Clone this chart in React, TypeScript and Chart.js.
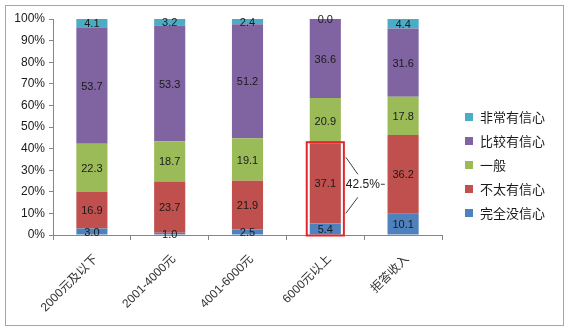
import React, { useEffect, useRef } from "react";
import { Chart, registerables } from "chart.js";

Chart.register(...registerables);

const categories = ["2000元及以下", "2001-4000元", "4001-6000元", "6000元以上", "拒答收入"];
const seriesNames = ["完全没信心", "不太有信心", "一般", "比较有信心", "非常有信心"];
const seriesColors = ["#4F81BD", "#C0504D", "#9BBB59", "#8064A2", "#4BACC6"];

const noConfidence = [3.0, 1.0, 2.5, 5.4, 10.1];
const littleConfidence = [16.9, 23.7, 21.9, 37.1, 36.2];
const neutral = [22.3, 18.7, 19.1, 20.9, 17.8];
const fairlyConfident = [53.7, 53.3, 51.2, 36.6, 31.6];
const veryConfident = [4.1, 3.2, 2.4, 0.0, 4.4];

const seriesValues = [noConfidence, littleConfidence, neutral, fairlyConfident, veryConfident];
const highlightCategory = 3; // 6000元以上
const highlightSeries = [0, 1]; // 完全没信心 + 不太有信心

const FONT = "'Liberation Sans', 'Noto Sans CJK SC', sans-serif";

export default function App() {
  const ref = useRef<HTMLCanvasElement>(null);

  useEffect(() => {
    document.body.style.margin = "0";
    const canvas = ref.current!;
    const totals = categories.map((_, c) => seriesValues.reduce((s, arr) => s + arr[c], 0));

    const datasets = seriesNames.map((name, i) => ({
      label: name,
      data: seriesValues[i].map((v, c) => (v / totals[c]) * 100),
      raw: seriesValues[i],
      backgroundColor: seriesColors[i],
      borderWidth: 0,
      barPercentage: 0.4,
      categoryPercentage: 1,
    }));

    const decorPlugin = {
      id: "decor",
      beforeDraw(chart: any) {
        const ctx = chart.ctx;
        ctx.save();
        ctx.fillStyle = "#fff";
        ctx.fillRect(0, 0, chart.width, chart.height);
        ctx.strokeStyle = "#A6A6A6";
        ctx.lineWidth = 1;
        ctx.strokeRect(5.5, 5.5, 558, 320);
        ctx.restore();
      },
      afterDatasetsDraw(chart: any) {
        const ctx = chart.ctx;
        ctx.save();
        ctx.font = `11px ${FONT}`;
        ctx.fillStyle = "#1a1a1a";
        ctx.textAlign = "center";
        ctx.textBaseline = "middle";
        chart.data.datasets.forEach((ds: any, i: number) => {
          const meta = chart.getDatasetMeta(i);
          meta.data.forEach((el: any, c: number) => {
            const y = (el.y + el.base) / 2;
            ctx.fillText(ds.raw[c].toFixed(1), el.x, y + 1);
          });
        });

        // highlight box
        const topSeries = highlightSeries[highlightSeries.length - 1];
        const topEl: any = chart.getDatasetMeta(topSeries).data[highlightCategory];
        const botEl: any = chart.getDatasetMeta(highlightSeries[0]).data[highlightCategory];
        const left = topEl.x - topEl.width / 2 - 3;
        const right = topEl.x + topEl.width / 2 + 3;
        ctx.strokeStyle = "#E3262B";
        ctx.lineWidth = 2;
        ctx.strokeRect(left, topEl.y - 1, right - left, botEl.base - topEl.y + 2);

        const sum = highlightSeries.reduce((s, i) => s + seriesValues[i][highlightCategory], 0);
        const midY = (topEl.y + topEl.base) / 2;
        ctx.strokeStyle = "#404040";
        ctx.lineWidth = 1;
        ctx.beginPath();
        ctx.moveTo(right + 2, midY - 26);
        ctx.lineTo(right + 14, midY - 9);
        ctx.moveTo(right + 2, midY + 30);
        ctx.lineTo(right + 14, midY + 14);
        ctx.moveTo(right + 37, midY + 1);
        ctx.lineTo(right + 41, midY + 1);
        ctx.stroke();
        ctx.font = `12px ${FONT}`;
        ctx.fillStyle = "#1a1a1a";
        ctx.textAlign = "center";
        ctx.fillText(sum.toFixed(1) + "%", right + 19, midY + 1);

        // legend
        ctx.font = `13px ${FONT}`;
        ctx.textAlign = "left";
        for (let i = seriesNames.length - 1; i >= 0; i--) {
          const y = 117 + (seriesNames.length - 1 - i) * 24;
          ctx.fillStyle = seriesColors[i];
          ctx.fillRect(465, y - 4, 8, 8);
          ctx.fillStyle = "#1a1a1a";
          ctx.fillText(seriesNames[i], 480, y + 1);
        }
        ctx.restore();
      },
    };

    const chart = new Chart(canvas, {
      type: "bar",
      data: { labels: categories, datasets: datasets as any },
      options: {
        responsive: false,
        animation: false,
        devicePixelRatio: 1,
        layout: { padding: { left: 0, right: 129, top: 19, bottom: 0 } },
        plugins: { legend: { display: false }, tooltip: { enabled: false } },
        scales: {
          x: {
            stacked: true,
            afterFit: (s: any) => {
              s.height = 97;
            },
            grid: {
              display: true,
              drawOnChartArea: false,
              offset: true,
              tickLength: 5,
              color: "#868686",
            },
            border: { color: "#868686" },
            ticks: {
              minRotation: 45,
              maxRotation: 45,
              padding: 12,
              labelOffset: 4,
              color: "#333",
              font: { size: 12, family: FONT },
            },
          },
          y: {
            stacked: true,
            min: 0,
            max: 100,
            afterFit: (s: any) => {
              s.width = 53;
            },
            grid: {
              display: true,
              drawOnChartArea: false,
              tickLength: 4,
              color: "#868686",
            },
            border: { color: "#868686" },
            ticks: {
              stepSize: 10,
              padding: 4,
              color: "#1a1a1a",
              font: { size: 12, family: FONT },
              callback: (v: any) => v + "%",
            },
          },
        },
      },
      plugins: [decorPlugin],
    });
    return () => chart.destroy();
  }, []);

  return <canvas ref={ref} width={571} height={332} style={{ display: "block" }} />;
}
